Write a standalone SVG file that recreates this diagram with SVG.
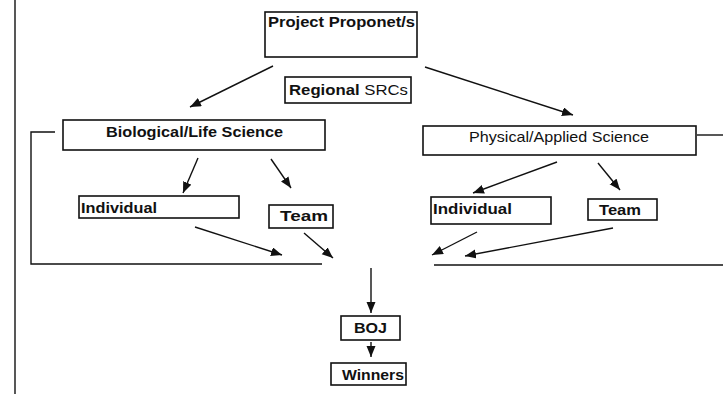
<svg xmlns="http://www.w3.org/2000/svg" width="723" height="394" viewBox="0 0 723 394">
<style>
.box{fill:#fff;stroke:#111;stroke-width:1.6}
.ln{fill:none;stroke:#111;stroke-width:1.4}
.ar{fill:none;stroke:#111;stroke-width:1.4;marker-end:url(#ah)}
text{font-family:"Liberation Sans",Arial,sans-serif;font-size:15px;fill:#111}
.b{font-weight:bold}
</style>
<defs>
<marker id="ah" markerUnits="userSpaceOnUse" markerWidth="12" markerHeight="10" refX="11" refY="4.5" orient="auto">
<path d="M0,0 L11,4.5 L0,9 Z" fill="#111"/>
</marker>
</defs>
<rect width="723" height="394" fill="#fff"/>
<g id="frame-lines">
<line class="ln" x1="15" y1="0" x2="15" y2="394"/>
<polyline class="ln" points="55,132 31,132 31,264 322,264"/>
<line class="ln" x1="697" y1="135" x2="723" y2="135"/>
<line class="ln" x1="434" y1="265" x2="723" y2="265"/>
</g>
<g id="connectors">
<line class="ar" x1="273" y1="66" x2="190" y2="107"/>
<line class="ar" x1="425" y1="67" x2="573" y2="115"/>
<line class="ar" x1="198" y1="158" x2="183" y2="193"/>
<line class="ar" x1="271" y1="159" x2="291" y2="188"/>
<line class="ar" x1="557" y1="162" x2="473" y2="193"/>
<line class="ar" x1="598" y1="163" x2="620" y2="190"/>
<line class="ar" x1="195" y1="227" x2="282" y2="255"/>
<line class="ar" x1="304" y1="233" x2="333" y2="258"/>
<line class="ar" x1="477" y1="232" x2="432" y2="255"/>
<line class="ar" x1="613" y1="228" x2="465" y2="256"/>
<line class="ar" x1="371" y1="268" x2="371" y2="313"/>
<line class="ar" x1="371" y1="342" x2="371" y2="357"/>
</g>
<g id="project">
<rect class="box" x="265" y="12" width="152" height="45"/>
<text class="b" x="268" y="27" textLength="147" lengthAdjust="spacingAndGlyphs">Project Proponet/s</text>
</g>
<g id="regional">
<rect class="box" x="285" y="77" width="126" height="26"/>
<text x="289" y="95" textLength="119" lengthAdjust="spacingAndGlyphs"><tspan class="b">Regional</tspan> SRCs</text>
</g>
<g id="bio">
<rect class="box" x="63" y="120" width="262" height="30"/>
<text class="b" x="106" y="137" textLength="177" lengthAdjust="spacingAndGlyphs">Biological/Life Science</text>
</g>
<g id="phys">
<rect class="box" x="423" y="126" width="273" height="29"/>
<text x="469" y="142" textLength="180" lengthAdjust="spacingAndGlyphs">Physical/Applied Science</text>
</g>
<g id="indiv-l">
<rect class="box" x="79" y="196" width="160" height="22"/>
<text class="b" x="81" y="213" textLength="76" lengthAdjust="spacingAndGlyphs">Individual</text>
</g>
<g id="team-l">
<rect class="box" x="269" y="205" width="64" height="23"/>
<text class="b" x="280" y="221" textLength="48" lengthAdjust="spacingAndGlyphs">Team</text>
</g>
<g id="indiv-r">
<rect class="box" x="431" y="197" width="120" height="27"/>
<text class="b" x="433" y="214" textLength="79" lengthAdjust="spacingAndGlyphs">Individual</text>
</g>
<g id="team-r">
<rect class="box" x="588" y="199" width="69" height="21"/>
<text class="b" x="599" y="215" textLength="42" lengthAdjust="spacingAndGlyphs">Team</text>
</g>
<g id="boj">
<rect class="box" x="341" y="316" width="59" height="24"/>
<text class="b" x="354" y="333" textLength="33" lengthAdjust="spacingAndGlyphs">BOJ</text>
</g>
<g id="winners">
<rect class="box" x="331" y="363" width="75" height="22"/>
<text class="b" x="342" y="380" textLength="62" lengthAdjust="spacingAndGlyphs">Winners</text>
</g>
</svg>
